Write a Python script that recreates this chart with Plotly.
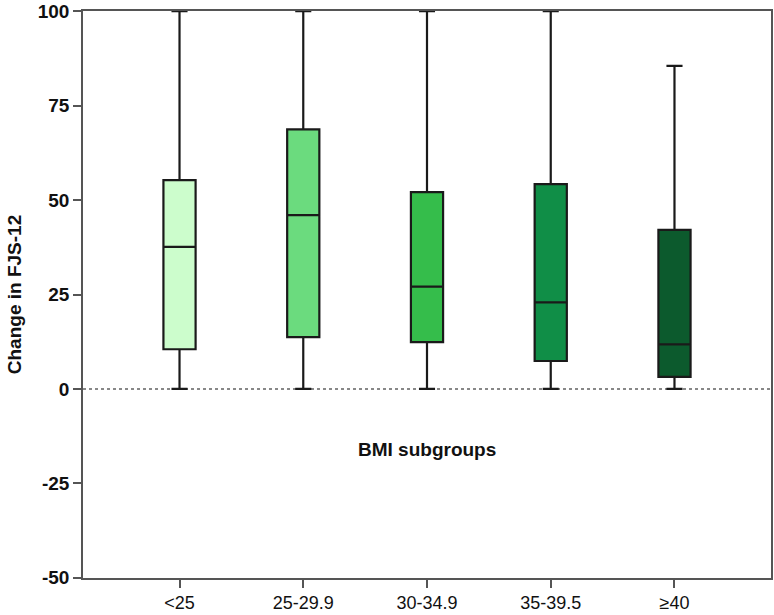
import plotly.graph_objects as go

categories = ["<25", "25-29.9", "30-34.9", "35-39.5", "≥40"]
q1_vals = [10.5, 13.7, 12.4, 7.4, 3.2]
median_vals = [37.6, 46.0, 27.1, 22.9, 11.8]
q3_vals = [55.3, 68.7, 52.1, 54.2, 42.1]
lower_whisker = [0, 0, 0, 0, 0]
upper_whisker = [100, 100, 100, 100, 85.5]
colors = ["#ccfdcc", "#6bdb7e", "#35bd4b", "#108e47", "#0c5a2d"]
y_ticks = [-50, -25, 0, 25, 50, 75, 100]

fig = go.Figure()
for i, cat in enumerate(categories):
    fig.add_trace(go.Box(
        x=[cat],
        q1=[q1_vals[i]],
        median=[median_vals[i]],
        q3=[q3_vals[i]],
        lowerfence=[lower_whisker[i]],
        upperfence=[upper_whisker[i]],
        fillcolor=colors[i],
        line=dict(color="#1a1a1a", width=2.2),
        width=0.26,
        whiskerwidth=0.5,
        boxpoints=False,
        showlegend=False,
        hoverinfo="skip",
    ))

fig.add_shape(type="line", xref="paper", yref="y", x0=0, x1=1, y0=0, y1=0,
              line=dict(color="#888888", width=2, dash="dot"), layer="below")

fig.add_annotation(text="<b>BMI subgroups</b>", x=2, y=-16, xref="x", yref="y",
                   showarrow=False, font=dict(family="Liberation Sans, Arial", size=19, color="#111"))

fig.update_layout(
    width=774, height=615,
    margin=dict(l=83, r=3, t=11, b=37),
    plot_bgcolor="white", paper_bgcolor="white",
    boxmode="overlay",
)
fig.update_xaxes(
    type="category", categoryorder="array", categoryarray=categories,
    range=[-0.78, 4.78], automargin=False,
    showline=True, mirror=True, linecolor="#555555", linewidth=1.5,
    ticks="outside", ticklen=8, tickcolor="#555555", tickwidth=1.5,
    tickfont=dict(family="Liberation Sans Narrow, Arial Narrow, Liberation Sans", size=18, color="#111"),
    showgrid=False, zeroline=False,
)
fig.update_yaxes(
    range=[-50.05, 100.05], tickvals=y_ticks, ticktext=[f"<b>{v}</b>" for v in y_ticks],
    automargin=False, ticklabeloverflow="allow",
    showline=True, mirror=True, linecolor="#555555", linewidth=1.5,
    ticks="outside", ticklen=8, tickcolor="#555555", tickwidth=1.5,
    tickfont=dict(family="Liberation Sans, Arial", size=19, color="#111"),
    title=dict(text="<b>Change in FJS-12</b>", font=dict(family="Liberation Sans, Arial", size=19, color="#111"), standoff=11),
    showgrid=False, zeroline=False,
)

fig.write_html("out.html", config={"displayModeBar": False},
               post_script="document.body.style.margin='0';")
